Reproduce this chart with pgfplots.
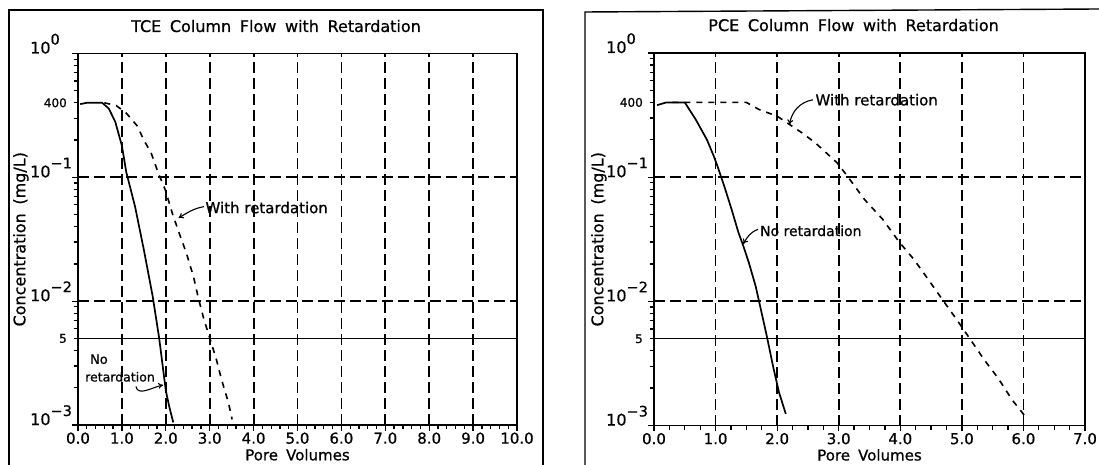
\documentclass[border=0pt]{standalone}
\usepackage{fontspec}
\setmainfont{DejaVu Sans}[FakeBold=0.7]
\newfontfamily\widefont{DejaVu Sans}[WordSpace=1.7,FakeBold=0.7]
\usepackage{pgfplots}
\pgfplotsset{compat=1.18}
\usetikzlibrary{arrows.meta}
\newcommand{\ex}[1]{10\raisebox{9pt}{\fontsize{14.5}{14}\selectfont #1}}
\begin{document}
\begin{tikzpicture}[x=1pt,y=1pt]
\useasboundingbox (0,0) rectangle (1099,465);
\draw[line width=1.4pt] (9,0) -- (9,455) -- (543,455) -- (543,0);
\draw[line width=1.4pt] (585,0) -- (585,453) -- (1099,456);

% ---------------- TCE ----------------
\begin{axis}[
  ymode=log, ymin=1e-3, ymax=1,
  scale only axis,
  at={(78pt,40pt)}, anchor=south west,
  width=439pt, height=371.5pt,
  axis line style={line width=1.6pt},
  tick pos=left, tick align=outside,
  major tick length=6pt, minor tick length=4.5pt,
  tick style={black, line width=1.3pt},
  ytick={1e-3,1e-2,1e-1,1},
  yticklabels={\ex{−3},\ex{−2},\ex{−1},\ex{0}},
  minor ytick={2e-3,3e-3,4e-3,5e-3,6e-3,7e-3,8e-3,9e-3,2e-2,3e-2,4e-2,5e-2,6e-2,7e-2,8e-2,9e-2,2e-1,3e-1,4e-1,5e-1,6e-1,7e-1,8e-1,9e-1},
  extra y ticks={0.4,0.005},
  extra y tick labels={400,5},
  extra y tick style={major tick length=0pt, grid=none,
    yticklabel style={anchor=east, xshift=31pt, font=\fontsize{12}{12}\selectfont}},
  yticklabel style={anchor=base west, inner sep=0pt, xshift=-42pt, font=\fontsize{16}{18}\selectfont},
  xticklabel style={font=\fontsize{15}{16}\selectfont, yshift=2pt},
  xmajorgrids, ymajorgrids,
  major grid style={line width=1.8pt, dash pattern=on 11pt off 5pt, black},
  xlabel={Pore Volumes}, ylabel={Concentration (mg/L)},
  xlabel style={font=\widefont\fontsize{15}{16}\selectfont, at={(axis description cs:0.5,-0.095)}, anchor=base},
  ylabel style={font=\widefont\fontsize{16}{18}\selectfont, at={(axis description cs:-0.13,0.5)}, anchor=center},
  title={TCE Column Flow with Retardation},
  title style={font=\widefont\fontsize{16}{18}\selectfont, anchor=center, yshift=-6pt, at={(0.451,1.074)}},
  xmin=0, xmax=10,
  xtick={0,1,2,3,4,5,6,7,8,9,10},
  xticklabels={0.0,1.0,2.0,3.0,4.0,5.0,6.0,7.0,8.0,9.0,10.0},
  minor x tick num=4,
]
\addplot[black, line width=0.9pt] coordinates {(0,0.005) (10,0.005)};
\addplot[black, line width=1.7pt] coordinates {
(0.05,0.39) (0.2,0.4) (0.55,0.4) (0.7,0.36) (0.85,0.28) (1.0,0.18) (1.1,0.11)
(1.3,0.058) (1.5,0.026) (1.7,0.011) (1.85,0.005) (2.0,0.0019) (2.08,0.0014) (2.17,0.00105)};
\addplot[black, line width=1.6pt, dash pattern=on 6pt off 6pt] coordinates {
(0.6,0.4) (0.87,0.38) (1.1,0.33) (1.35,0.26) (1.5,0.2) (1.67,0.156) (1.83,0.108)
(1.99,0.079) (2.15,0.051) (2.31,0.035) (2.47,0.0244) (2.63,0.0158) (2.75,0.0103)
(2.87,0.0071) (2.99,0.0052) (3.15,0.0034) (3.27,0.00233) (3.43,0.0015) (3.51,0.00111)};
\node[anchor=west, font=\fontsize{15}{15}\selectfont, inner sep=0pt] at (axis cs:2.9,0.057) {With retardation};
\draw[-{To[length=5pt,width=6pt]}, line width=1.1pt] (axis cs:2.87,0.058) to[out=190,in=30] (axis cs:2.29,0.047);
\node[anchor=west, font=\fontsize{13}{13}\selectfont, inner sep=0pt] at (axis cs:0.27,0.0034) {No};
\node[anchor=west, font=\fontsize{12.5}{13}\selectfont, inner sep=0pt] at (axis cs:0.16,0.00245) {retardation};
\draw[-{To[length=5pt,width=6pt]}, line width=1.1pt] (axis cs:1.32,0.00205) to[out=-80,in=190] (axis cs:1.94,0.0021);
\end{axis}

% ---------------- PCE ----------------
\begin{axis}[
  ymode=log, ymin=1e-3, ymax=1,
  scale only axis,
  at={(654pt,39.5pt)}, anchor=south west,
  width=431pt, height=372.5pt,
  axis line style={line width=1.6pt},
  tick pos=left, tick align=outside,
  major tick length=6pt, minor tick length=4.5pt,
  tick style={black, line width=1.3pt},
  ytick={1e-3,1e-2,1e-1,1},
  yticklabels={\ex{−3},\ex{−2},\ex{−1},\ex{0}},
  minor ytick={2e-3,3e-3,4e-3,5e-3,6e-3,7e-3,8e-3,9e-3,2e-2,3e-2,4e-2,5e-2,6e-2,7e-2,8e-2,9e-2,2e-1,3e-1,4e-1,5e-1,6e-1,7e-1,8e-1,9e-1},
  extra y ticks={0.4,0.005},
  extra y tick labels={400,5},
  extra y tick style={major tick length=0pt, grid=none,
    yticklabel style={anchor=east, xshift=31pt, font=\fontsize{12}{12}\selectfont}},
  yticklabel style={anchor=base west, inner sep=0pt, xshift=-42pt, font=\fontsize{16}{18}\selectfont},
  xticklabel style={font=\fontsize{15}{16}\selectfont, yshift=2pt},
  xmajorgrids, ymajorgrids,
  major grid style={line width=1.8pt, dash pattern=on 11pt off 5pt, black},
  xlabel={Pore Volumes}, ylabel={Concentration (mg/L)},
  xlabel style={font=\widefont\fontsize{15}{16}\selectfont, at={(axis description cs:0.5,-0.094)}, anchor=base},
  ylabel style={font=\widefont\fontsize{16}{18}\selectfont, at={(axis description cs:-0.128,0.5)}, anchor=center},
  title={PCE Column Flow with Retardation},
  title style={font=\widefont\fontsize{16}{18}\selectfont, anchor=center, yshift=-6pt, at={(0.463,1.075)}},
  xmin=0, xmax=7,
  xtick={0,1,2,3,4,5,6,7},
  xticklabels={0.0,1.0,2.0,3.0,4.0,5.0,6.0,7.0},
  minor x tick num=3,
]
\addplot[black, line width=0.9pt] coordinates {(0,0.005) (7,0.005)};
\addplot[black, line width=1.7pt] coordinates {
(0.05,0.38) (0.2,0.4) (0.5,0.4) (0.68,0.29) (0.86,0.2) (0.97,0.148) (1.03,0.123)
(1.14,0.085) (1.26,0.055) (1.37,0.036) (1.45,0.028) (1.54,0.0205) (1.65,0.0133)
(1.71,0.0098) (1.83,0.0053) (1.94,0.0029) (2.03,0.00185) (2.14,0.00124)};
\addplot[black, line width=1.6pt, dash pattern=on 6pt off 6pt] coordinates {
(0.3,0.4) (1.5,0.4) (1.71,0.35) (2.0,0.31) (2.4,0.228) (2.62,0.189) (2.97,0.131)
(3.14,0.102) (3.42,0.066) (3.71,0.046) (3.99,0.0297) (4.22,0.0218) (4.45,0.0151)
(4.68,0.0104) (4.91,0.0072) (5.13,0.005) (5.36,0.0034) (5.59,0.0024) (5.82,0.0016) (6.02,0.0012)};
\node[anchor=west, font=\fontsize{15}{15}\selectfont, inner sep=0pt] at (axis cs:2.62,0.42) {With retardation};
\draw[-{To[length=5pt,width=6pt]}, line width=1.1pt] (axis cs:2.58,0.42) to[out=190,in=80] (axis cs:2.2,0.265);
\node[anchor=west, font=\fontsize{14}{14}\selectfont, inner sep=0pt] at (axis cs:1.72,0.037) {No retardation};
\draw[-{To[length=5pt,width=6pt]}, line width=1.1pt] (axis cs:1.69,0.038) to[out=200,in=60] (axis cs:1.45,0.029);
\end{axis}
\end{tikzpicture}
\end{document}
